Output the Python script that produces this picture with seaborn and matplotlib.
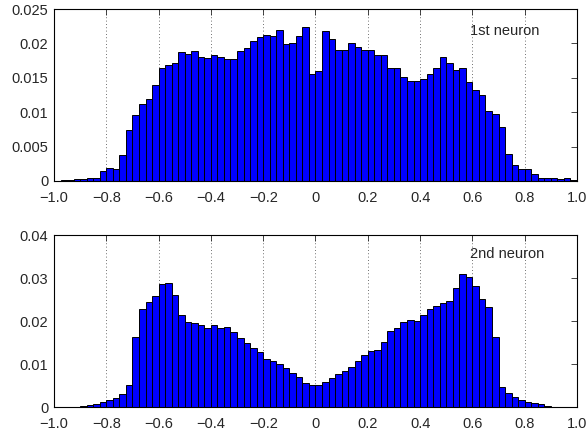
#################################################################
## Histograms of the two neuron outputs (80 bins from -1 to 1)
#################################################################

'''IMPORTS'''
import numpy as np
import pandas as pd
import matplotlib
matplotlib.use('Agg')
import matplotlib.pyplot as plt
import seaborn as sns

'''DATA'''
# bin heights, left to right, bin width 0.025
neuron1 = [0.00005, 0.0001, 0.0002, 0.0003, 0.0003, 0.0004, 0.0004, 0.0015,
           0.0019, 0.0018, 0.0038, 0.0074, 0.0096, 0.0112, 0.0119, 0.0139,
           0.0165, 0.0168, 0.0172, 0.0187, 0.0184, 0.0189, 0.0180, 0.0179,
           0.0183, 0.0180, 0.0177, 0.0177, 0.0189, 0.0193, 0.0204, 0.0210,
           0.0213, 0.0211, 0.0220, 0.0199, 0.0201, 0.0211, 0.0224, 0.0155,
           0.0160, 0.0218, 0.0206, 0.0191, 0.0191, 0.0201, 0.0195, 0.0191,
           0.0190, 0.0183, 0.0183, 0.0164, 0.0164, 0.0151, 0.0145, 0.0146,
           0.0148, 0.0156, 0.0164, 0.0180, 0.0172, 0.0161, 0.0164, 0.0144,
           0.0132, 0.0125, 0.0102, 0.0097, 0.0078, 0.0039, 0.0023, 0.0017,
           0.0017, 0.0010, 0.0005, 0.0005, 0.0004, 0.0003, 0.0004, 0.0001]

neuron2 = [0.0, 0.0, 0.0, 0.0, 0.0002, 0.0005, 0.0008, 0.0012,
           0.0016, 0.0021, 0.0031, 0.0052, 0.0164, 0.0229, 0.0244, 0.0259,
           0.0287, 0.0288, 0.0260, 0.0215, 0.0199, 0.0195, 0.0192, 0.0183,
           0.0192, 0.0183, 0.0187, 0.0174, 0.0160, 0.0150, 0.0138, 0.0127,
           0.0112, 0.0107, 0.0099, 0.0091, 0.0078, 0.0070, 0.0057, 0.0052,
           0.0052, 0.0058, 0.0068, 0.0077, 0.0084, 0.0093, 0.0106, 0.0121,
           0.0130, 0.0133, 0.0152, 0.0176, 0.0183, 0.0197, 0.0202, 0.0200,
           0.0214, 0.0227, 0.0236, 0.0241, 0.0247, 0.0277, 0.0310, 0.0302,
           0.0281, 0.0252, 0.0233, 0.0162, 0.0047, 0.0033, 0.0023, 0.0017,
           0.0012, 0.0009, 0.0006, 0.0002, 0.0001, 0.0, 0.0, 0.0]

labels = ['1st neuron', '2nd neuron']
xticks = [-1.0, -0.8, -0.6, -0.4, -0.2, 0.0, 0.2, 0.4, 0.6, 0.8, 1.0]
xticklabels = ['\u22121.0', '\u22120.8', '\u22120.6', '\u22120.4', '\u22120.2',
               '0', '0.2', '0.4', '0.6', '0.8', '1.0']
yticks1 = [0, 0.005, 0.01, 0.015, 0.02, 0.025]
yticklabels1 = ['0', '0.005', '0.01', '0.015', '0.02', '0.025']
yticks2 = [0, 0.01, 0.02, 0.03, 0.04]
yticklabels2 = ['0', '0.01', '0.02', '0.03', '0.04']

edges = np.linspace(-1, 1, 81)
centers = (edges[:-1] + edges[1:]) / 2


def drawHist(ax, vals, yticks, yticklabels, label, label_y):
    '''one MATLAB-looking histogram panel'''
    df = pd.DataFrame({'x': centers, 'w': vals})
    sns.histplot(data=df, x='x', weights='w', binwidth=0.025, binrange=(-1, 1),
                 ax=ax, color='#0000ff', edgecolor='black', linewidth=0.7,
                 alpha=1.0, stat='count')
    ax.set_xlim(-1, 1)
    ax.set_ylim(yticks[0], yticks[-1])
    ax.set_xticks(xticks)
    ax.set_xticklabels(xticklabels)
    ax.set_yticks(yticks)
    ax.set_yticklabels(yticklabels)
    ax.set_xlabel('')
    ax.set_ylabel('')
    # dotted vertical grid like matlab "grid on" for x only
    ax.set_axisbelow(True)
    ax.xaxis.grid(True, color='0.25', linestyle=(0, (1, 3)), linewidth=0.6)
    ax.yaxis.grid(False)
    ax.tick_params(direction='in', top=True, right=True, length=4,
                   width=0.6, labelsize=10.5)
    ax.tick_params(axis='x', pad=7)
    ax.tick_params(axis='y', pad=4)
    for s in ax.spines.values():
        s.set_visible(True)
        s.set_color('black')
        s.set_linewidth(0.8)
    ax.text(0.59, label_y, label, fontsize=10.5, va='center', ha='left')


'''MAIN FUNCTION'''
def main():
    sns.set_style('white')
    plt.rcParams['font.family'] = ['Liberation Sans', 'DejaVu Sans']
    plt.rcParams['axes.unicode_minus'] = True

    fig = plt.figure(figsize=(5.88, 4.34), dpi=100)
    ax1 = fig.add_axes([0.0918, 0.583, 0.8895, 0.396])
    ax2 = fig.add_axes([0.0918, 0.0622, 0.8895, 0.396])

    drawHist(ax1, neuron1, yticks1, yticklabels1, labels[0], 0.0218)
    drawHist(ax2, neuron2, yticks2, yticklabels2, labels[1], 0.0356)

    fig.savefig('out.png', dpi=100)


if __name__ == "__main__":
    main()
